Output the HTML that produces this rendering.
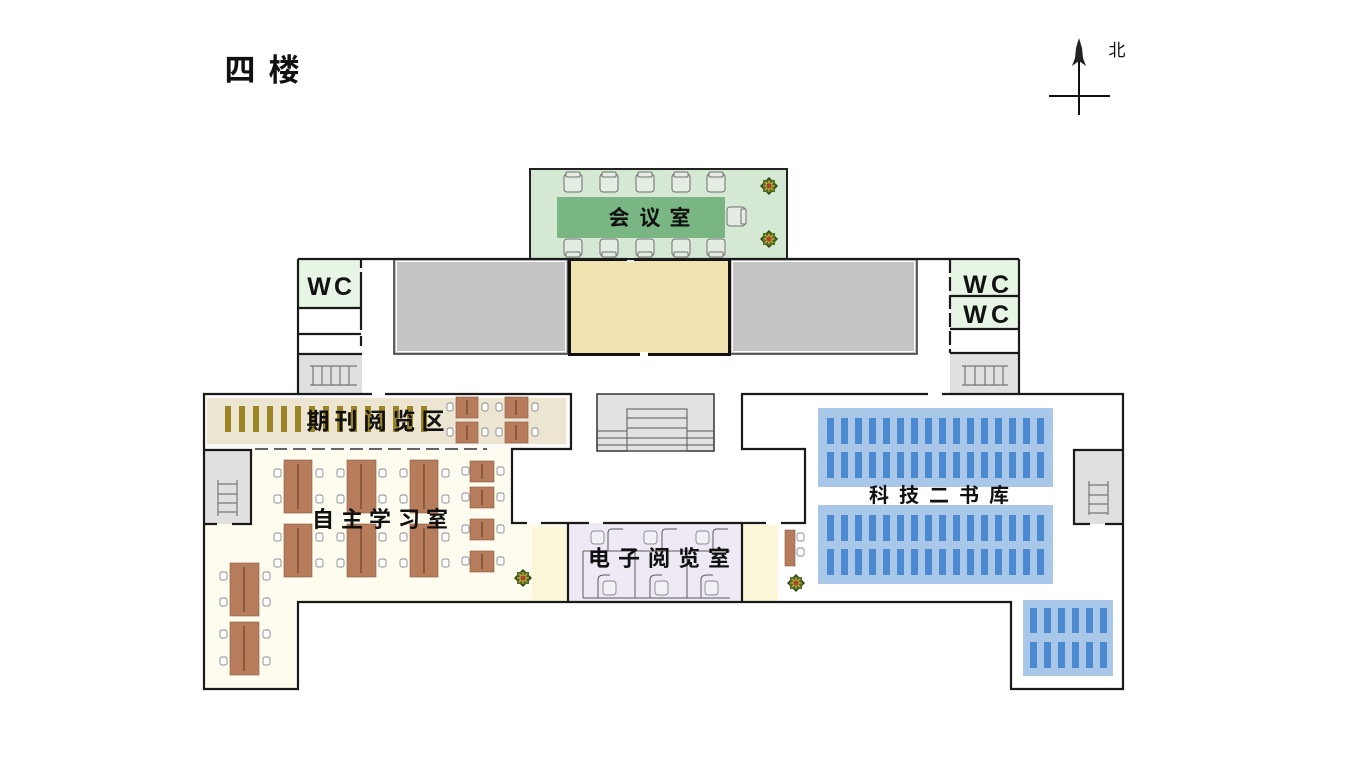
<!DOCTYPE html>
<html>
<head>
<meta charset="utf-8">
<style>
html,body{margin:0;padding:0;background:#fff;}
svg{display:block;}
</style>
</head>
<body>
<svg width="1349" height="777" viewBox="0 0 1349 777" xmlns="http://www.w3.org/2000/svg">
<defs>
  <g id="plant">
    <polygon points="0,-9 9,0 0,9 -9,0" fill="#2f4a17"/>
    <rect x="-6" y="-6" width="12" height="12" fill="#4e6d22"/>
    <polygon points="7,0 2.5,1 5,5 1,2.5 0,7 -1,2.5 -5,5 -2.5,1 -7,0 -2.5,-1 -5,-5 -1,-2.5 0,-7 1,-2.5 5,-5 2.5,-1" fill="#d2b040"/>
    <circle r="2.6" fill="#a8442a"/>
  </g>
</defs>
<rect width="1349" height="777" fill="#fff"/>

<!-- Title -->
<g font-family="'Liberation Sans','Noto Sans CJK SC',sans-serif" font-weight="700" font-size="31" fill="#111" text-anchor="middle">
  <text x="240" y="81">四</text>
  <text x="284" y="81">楼</text>
</g>

<!-- North arrow -->
<g stroke="#111" stroke-width="2">
  <line x1="1079" y1="42" x2="1079" y2="115"/>
  <line x1="1049" y1="96" x2="1110" y2="96"/>
</g>
<polygon points="1079,38 1082,48 1083,58 1086,66 1079,61 1072,66 1075,58 1076,48" fill="#222"/>
<text x="1117" y="56" font-family="'Liberation Sans','Noto Sans CJK SC',sans-serif" font-size="17" text-anchor="middle" fill="#111">北</text>

<!-- Meeting room -->
<rect x="530" y="169" width="257" height="90" fill="#d5e8d3" stroke="#222" stroke-width="2"/>
<rect x="557" y="197" width="168" height="41" fill="#79b684"/>
<g fill="#e4ede2" stroke="#6e6e6e" stroke-width="1">
  <rect x="564" y="174" width="18" height="18" rx="3"/><rect x="566" y="172" width="14" height="5" rx="1"/>
  <rect x="600" y="174" width="18" height="18" rx="3"/><rect x="602" y="172" width="14" height="5" rx="1"/>
  <rect x="636" y="174" width="18" height="18" rx="3"/><rect x="638" y="172" width="14" height="5" rx="1"/>
  <rect x="672" y="174" width="18" height="18" rx="3"/><rect x="674" y="172" width="14" height="5" rx="1"/>
  <rect x="707" y="174" width="18" height="18" rx="3"/><rect x="709" y="172" width="14" height="5" rx="1"/>
  <rect x="564" y="239" width="18" height="17" rx="3"/><rect x="566" y="252" width="14" height="5" rx="1"/>
  <rect x="600" y="239" width="18" height="17" rx="3"/><rect x="602" y="252" width="14" height="5" rx="1"/>
  <rect x="636" y="239" width="18" height="17" rx="3"/><rect x="638" y="252" width="14" height="5" rx="1"/>
  <rect x="672" y="239" width="18" height="17" rx="3"/><rect x="674" y="252" width="14" height="5" rx="1"/>
  <rect x="707" y="239" width="18" height="17" rx="3"/><rect x="709" y="252" width="14" height="5" rx="1"/>
  <rect x="727" y="207" width="18" height="19" rx="3"/><rect x="741" y="209" width="5" height="15" rx="1"/>
</g>
<use href="#plant" x="769" y="186"/>
<use href="#plant" x="769" y="239"/>

<!-- Band: grays and yellow -->
<rect x="394" y="259" width="174" height="95" fill="#c4c4c4" stroke="#333" stroke-width="1.5"/>
<rect x="396.5" y="261.5" width="169" height="90" fill="none" stroke="#fff" stroke-width="1"/>
<rect x="730" y="259" width="187" height="95" fill="#c4c4c4" stroke="#333" stroke-width="1.5"/>
<rect x="732.5" y="261.5" width="182" height="90" fill="none" stroke="#fff" stroke-width="1"/>
<rect x="569.5" y="259.5" width="160" height="95" fill="#f0e3b0" stroke="#111" stroke-width="3"/>
<rect x="627" y="257" width="7" height="5" fill="#fff"/>
<rect x="640" y="352" width="8" height="5" fill="#fff"/>

<!-- WC columns fills -->
<rect x="298" y="259" width="63" height="49" fill="#e6f5e4"/>
<rect x="298" y="354" width="64" height="40" fill="#e0e0e0"/>
<rect x="950" y="259" width="69" height="70" fill="#e6f5e4"/>
<rect x="950" y="353" width="69" height="41" fill="#e0e0e0"/>

<!-- Main lower fills -->
<rect x="205" y="395" width="366" height="54" fill="#fbfaf6"/>
<rect x="207" y="398" width="359" height="46" fill="#ebe5d1"/>
<polygon points="205,449 512,449 512,523 568,523 568,602 298,602 298,688 205,688" fill="#fdfcee"/>
<rect x="532" y="527" width="36" height="74" fill="#fbf7d8"/>
<rect x="568" y="523" width="174" height="79" fill="#efe9f5"/>
<rect x="742" y="525" width="36" height="76" fill="#fbf7d8"/>

<!-- Gold bars -->
<g fill="#9a8424">
  <rect x="225" y="406" width="6" height="26"/><rect x="239" y="406" width="6" height="26"/><rect x="253" y="406" width="6" height="26"/>
  <rect x="267" y="406" width="6" height="26"/><rect x="281" y="406" width="6" height="26"/><rect x="295" y="406" width="6" height="26"/>
  <rect x="309" y="406" width="6" height="26"/><rect x="323" y="406" width="6" height="26"/><rect x="337" y="406" width="6" height="26"/>
  <rect x="351" y="406" width="6" height="26"/><rect x="365" y="406" width="6" height="26"/><rect x="379" y="406" width="6" height="26"/>
  <rect x="393" y="406" width="6" height="26"/><rect x="407" y="406" width="6" height="26"/><rect x="421" y="406" width="6" height="26"/>
</g>

<!-- Tables -->
<g fill="#b67c5c" stroke="#8a5a40" stroke-width="0.6">
  <rect x="456" y="397" width="22" height="21"/><rect x="456" y="422" width="22" height="21"/>
  <rect x="505" y="397" width="23" height="21"/><rect x="505" y="422" width="23" height="21"/>
  <rect x="284" y="460" width="28" height="53"/><rect x="284" y="524" width="28" height="53"/>
  <rect x="347" y="460" width="29" height="53"/><rect x="347" y="524" width="29" height="53"/>
  <rect x="410" y="460" width="28" height="53"/><rect x="410" y="524" width="28" height="53"/>
  <rect x="470" y="461" width="24" height="21"/><rect x="470" y="487" width="24" height="21"/>
  <rect x="470" y="519" width="24" height="21"/><rect x="470" y="551" width="24" height="21"/>
  <rect x="230" y="563" width="29" height="53"/><rect x="230" y="622" width="29" height="53"/>
  <rect x="785" y="530" width="10" height="36"/>
</g>
<g stroke="#4e3020" stroke-width="0.9">
  <line x1="467" y1="400" x2="467" y2="415"/><line x1="467" y1="425" x2="467" y2="440"/>
  <line x1="516" y1="400" x2="516" y2="415"/><line x1="516" y1="425" x2="516" y2="440"/>
  <line x1="298" y1="464" x2="298" y2="509"/><line x1="298" y1="528" x2="298" y2="573"/>
  <line x1="361" y1="464" x2="361" y2="509"/><line x1="361" y1="528" x2="361" y2="573"/>
  <line x1="424" y1="464" x2="424" y2="509"/><line x1="424" y1="528" x2="424" y2="573"/>
  <line x1="482" y1="464" x2="482" y2="479"/><line x1="482" y1="490" x2="482" y2="505"/>
  <line x1="482" y1="522" x2="482" y2="537"/><line x1="482" y1="554" x2="482" y2="569"/>
  <line x1="244" y1="567" x2="244" y2="612"/><line x1="244" y1="626" x2="244" y2="671"/>
</g>

<!-- Small chairs -->
<g fill="#fff" stroke="#8a8a8a" stroke-width="0.9">
  <rect x="447" y="403" width="6" height="8" rx="2"/><rect x="482" y="403" width="6" height="8" rx="2"/>
  <rect x="447" y="428" width="6" height="8" rx="2"/><rect x="482" y="428" width="6" height="8" rx="2"/>
  <rect x="496" y="403" width="6" height="8" rx="2"/><rect x="532" y="403" width="6" height="8" rx="2"/>
  <rect x="496" y="428" width="6" height="8" rx="2"/><rect x="532" y="428" width="6" height="8" rx="2"/>

  <rect x="274" y="469" width="7" height="8" rx="2"/><rect x="316" y="469" width="7" height="8" rx="2"/>
  <rect x="274" y="495" width="7" height="8" rx="2"/><rect x="316" y="495" width="7" height="8" rx="2"/>
  <rect x="274" y="533" width="7" height="8" rx="2"/><rect x="316" y="533" width="7" height="8" rx="2"/>
  <rect x="274" y="559" width="7" height="8" rx="2"/><rect x="316" y="559" width="7" height="8" rx="2"/>

  <rect x="337" y="469" width="7" height="8" rx="2"/><rect x="379" y="469" width="7" height="8" rx="2"/>
  <rect x="337" y="495" width="7" height="8" rx="2"/><rect x="379" y="495" width="7" height="8" rx="2"/>
  <rect x="337" y="533" width="7" height="8" rx="2"/><rect x="379" y="533" width="7" height="8" rx="2"/>
  <rect x="337" y="559" width="7" height="8" rx="2"/><rect x="379" y="559" width="7" height="8" rx="2"/>

  <rect x="400" y="469" width="7" height="8" rx="2"/><rect x="442" y="469" width="7" height="8" rx="2"/>
  <rect x="400" y="495" width="7" height="8" rx="2"/><rect x="442" y="495" width="7" height="8" rx="2"/>
  <rect x="400" y="533" width="7" height="8" rx="2"/><rect x="442" y="533" width="7" height="8" rx="2"/>
  <rect x="400" y="559" width="7" height="8" rx="2"/><rect x="442" y="559" width="7" height="8" rx="2"/>

  <rect x="462" y="467" width="7" height="8" rx="2"/><rect x="497" y="467" width="7" height="8" rx="2"/>
  <rect x="462" y="493" width="7" height="8" rx="2"/><rect x="497" y="493" width="7" height="8" rx="2"/>
  <rect x="462" y="525" width="7" height="8" rx="2"/><rect x="497" y="525" width="7" height="8" rx="2"/>
  <rect x="462" y="557" width="7" height="8" rx="2"/><rect x="497" y="557" width="7" height="8" rx="2"/>

  <rect x="220" y="572" width="7" height="8" rx="2"/><rect x="263" y="572" width="7" height="8" rx="2"/>
  <rect x="220" y="598" width="7" height="8" rx="2"/><rect x="263" y="598" width="7" height="8" rx="2"/>
  <rect x="220" y="630" width="7" height="8" rx="2"/><rect x="263" y="630" width="7" height="8" rx="2"/>
  <rect x="220" y="657" width="7" height="8" rx="2"/><rect x="263" y="657" width="7" height="8" rx="2"/>

  <rect x="797" y="533" width="7" height="8" rx="2"/><rect x="797" y="548" width="7" height="8" rx="2"/>
</g>

<use href="#plant" x="523" y="578"/>
<use href="#plant" x="796" y="583"/>

<!-- E-reading cubicles -->
<g fill="none" stroke="#5a5a5a" stroke-width="1">
  <line x1="583" y1="551" x2="730" y2="551"/>
  <path d="M608,551 V533 Q608,529 612,529 H623"/>
  <path d="M662,551 V533 Q662,529 666,529 H677"/>
  <path d="M713,551 V533 Q713,529 717,529 H728"/>
  <path d="M583,551 V598"/>
  <path d="M635,551 V598"/>
  <path d="M687,551 V598"/>
  <path d="M598,598 V580 Q598,575 604,575 H610"/>
  <path d="M650,598 V580 Q650,575 656,575 H662"/>
  <path d="M701,598 V580 Q701,575 707,575 H713"/>
  <line x1="583" y1="598" x2="730" y2="598"/>
</g>
<g fill="#f4f0f8" stroke="#8a8a8a" stroke-width="0.9">
  <rect x="591" y="531" width="13" height="13" rx="3"/>
  <rect x="644" y="531" width="13" height="13" rx="3"/>
  <rect x="696" y="531" width="13" height="13" rx="3"/>
  <rect x="603" y="581" width="13" height="14" rx="3"/>
  <rect x="655" y="581" width="13" height="14" rx="3"/>
  <rect x="705" y="581" width="13" height="14" rx="3"/>
</g>

<!-- Book stacks -->
<rect x="818" y="408" width="235" height="79" fill="#a9c7e9"/>
<rect x="818" y="505" width="235" height="79" fill="#a9c7e9"/>
<rect x="1023" y="600" width="90" height="76" fill="#a9c7e9"/>
<g fill="#4b89d0">
  <rect x="827" y="418" width="7" height="26"/><rect x="841" y="418" width="7" height="26"/><rect x="855" y="418" width="7" height="26"/><rect x="869" y="418" width="7" height="26"/>
  <rect x="883" y="418" width="7" height="26"/><rect x="897" y="418" width="7" height="26"/><rect x="911" y="418" width="7" height="26"/><rect x="925" y="418" width="7" height="26"/>
  <rect x="939" y="418" width="7" height="26"/><rect x="953" y="418" width="7" height="26"/><rect x="967" y="418" width="7" height="26"/><rect x="981" y="418" width="7" height="26"/>
  <rect x="995" y="418" width="7" height="26"/><rect x="1009" y="418" width="7" height="26"/><rect x="1023" y="418" width="7" height="26"/><rect x="1037" y="418" width="7" height="26"/>

  <rect x="827" y="452" width="7" height="26"/><rect x="841" y="452" width="7" height="26"/><rect x="855" y="452" width="7" height="26"/><rect x="869" y="452" width="7" height="26"/>
  <rect x="883" y="452" width="7" height="26"/><rect x="897" y="452" width="7" height="26"/><rect x="911" y="452" width="7" height="26"/><rect x="925" y="452" width="7" height="26"/>
  <rect x="939" y="452" width="7" height="26"/><rect x="953" y="452" width="7" height="26"/><rect x="967" y="452" width="7" height="26"/><rect x="981" y="452" width="7" height="26"/>
  <rect x="995" y="452" width="7" height="26"/><rect x="1009" y="452" width="7" height="26"/><rect x="1023" y="452" width="7" height="26"/><rect x="1037" y="452" width="7" height="26"/>

  <rect x="827" y="515" width="7" height="26"/><rect x="841" y="515" width="7" height="26"/><rect x="855" y="515" width="7" height="26"/><rect x="869" y="515" width="7" height="26"/>
  <rect x="883" y="515" width="7" height="26"/><rect x="897" y="515" width="7" height="26"/><rect x="911" y="515" width="7" height="26"/><rect x="925" y="515" width="7" height="26"/>
  <rect x="939" y="515" width="7" height="26"/><rect x="953" y="515" width="7" height="26"/><rect x="967" y="515" width="7" height="26"/><rect x="981" y="515" width="7" height="26"/>
  <rect x="995" y="515" width="7" height="26"/><rect x="1009" y="515" width="7" height="26"/><rect x="1023" y="515" width="7" height="26"/><rect x="1037" y="515" width="7" height="26"/>

  <rect x="827" y="549" width="7" height="26"/><rect x="841" y="549" width="7" height="26"/><rect x="855" y="549" width="7" height="26"/><rect x="869" y="549" width="7" height="26"/>
  <rect x="883" y="549" width="7" height="26"/><rect x="897" y="549" width="7" height="26"/><rect x="911" y="549" width="7" height="26"/><rect x="925" y="549" width="7" height="26"/>
  <rect x="939" y="549" width="7" height="26"/><rect x="953" y="549" width="7" height="26"/><rect x="967" y="549" width="7" height="26"/><rect x="981" y="549" width="7" height="26"/>
  <rect x="995" y="549" width="7" height="26"/><rect x="1009" y="549" width="7" height="26"/><rect x="1023" y="549" width="7" height="26"/><rect x="1037" y="549" width="7" height="26"/>

  <rect x="1030" y="608" width="7" height="25"/><rect x="1044" y="608" width="7" height="25"/><rect x="1058" y="608" width="7" height="25"/>
  <rect x="1072" y="608" width="7" height="25"/><rect x="1086" y="608" width="7" height="25"/><rect x="1100" y="608" width="7" height="25"/>
  <rect x="1030" y="642" width="7" height="26"/><rect x="1044" y="642" width="7" height="26"/><rect x="1058" y="642" width="7" height="26"/>
  <rect x="1072" y="642" width="7" height="26"/><rect x="1086" y="642" width="7" height="26"/><rect x="1100" y="642" width="7" height="26"/>
</g>

<!-- Stairs -->
<rect x="597" y="394" width="117" height="57" fill="#e2e2e2" stroke="#333" stroke-width="1.5"/>
<g fill="none" stroke="#555" stroke-width="1">
  <rect x="627" y="409" width="60" height="42"/>
  <line x1="627" y1="418" x2="687" y2="418"/>
  <line x1="627" y1="428" x2="687" y2="428"/>
  <line x1="627" y1="438" x2="687" y2="438"/>
  <line x1="627" y1="445" x2="687" y2="445"/>
  <line x1="597" y1="431" x2="627" y2="431"/><line x1="687" y1="431" x2="714" y2="431"/>
  <line x1="597" y1="438" x2="627" y2="438"/><line x1="687" y1="438" x2="714" y2="438"/>
  <line x1="597" y1="445" x2="627" y2="445"/><line x1="687" y1="445" x2="714" y2="445"/>
</g>
<rect x="205" y="450" width="46" height="74" fill="#e0e0e0"/>
<rect x="1074" y="450" width="49" height="74" fill="#e0e0e0"/>
<g fill="none" stroke="#777" stroke-width="1.2">
  <line x1="310" y1="366" x2="357" y2="366"/><line x1="310" y1="385" x2="357" y2="385"/>
  <line x1="313" y1="366" x2="313" y2="385"/><line x1="322" y1="366" x2="322" y2="385"/>
  <line x1="331" y1="366" x2="331" y2="385"/><line x1="340" y1="366" x2="340" y2="385"/><line x1="349" y1="366" x2="349" y2="385"/>
  <line x1="962" y1="366" x2="1008" y2="366"/><line x1="962" y1="385" x2="1008" y2="385"/>
  <line x1="965" y1="366" x2="965" y2="385"/><line x1="975" y1="366" x2="975" y2="385"/>
  <line x1="985" y1="366" x2="985" y2="385"/><line x1="994" y1="366" x2="994" y2="385"/><line x1="1003" y1="366" x2="1003" y2="385"/>
  <line x1="218" y1="480" x2="218" y2="516"/><line x1="237" y1="480" x2="237" y2="516"/>
  <line x1="218" y1="484" x2="237" y2="484"/><line x1="218" y1="494" x2="237" y2="494"/>
  <line x1="218" y1="503" x2="237" y2="503"/><line x1="218" y1="512" x2="237" y2="512"/>
  <line x1="1089" y1="481" x2="1089" y2="515"/><line x1="1108" y1="481" x2="1108" y2="515"/>
  <line x1="1089" y1="485" x2="1108" y2="485"/><line x1="1089" y1="495" x2="1108" y2="495"/>
  <line x1="1089" y1="504" x2="1108" y2="504"/><line x1="1089" y1="513" x2="1108" y2="513"/>
</g>

<!-- Walls -->
<g fill="none" stroke="#1a1a1a" stroke-width="2.2">
  <path d="M298,259 H1019"/>
  <path d="M298,259 V394"/>
  <path d="M361,259 V268 M361,272 V330 M361,336 V346"/>
  <path d="M298,308 H361 M298,334 H361 M298,354 H362"/>
  <path d="M1019,259 V394"/>
  <path d="M950,259 V353" stroke-dasharray="14 4"/>
  <path d="M950,296 H1019 M950,329 H1019 M950,353 H1019"/>
  <path d="M372,394 H204 V689 H298 V602 H1011 V689 H1123 V394 H942"/>
  <path d="M928,394 H742 V449 H805 V523 H781"/>
  <path d="M766,523 H603"/>
  <path d="M589,523 H541"/>
  <path d="M527,523 H512 V449 H571 V394 H385"/>
  <path d="M568,523 V602 M742,523 V602"/>
  <path d="M205,450 H251 V524 H232 M217,524 H205"/>
  <path d="M1123,450 H1074 V524 H1090 M1105,524 H1123"/>
</g>
<path d="M255,449 H487" stroke="#333" stroke-width="1.5" stroke-dasharray="13 6" fill="none"/>

<!-- Labels -->
<g font-family="'Liberation Sans','Noto Sans CJK SC',sans-serif" font-weight="700" fill="#111" text-anchor="middle">
  <g font-size="21">
    <text x="619" y="225">会</text><text x="650" y="225">议</text><text x="680" y="225">室</text>
  </g>
  <g font-size="25">
    <text x="319" y="295">W</text><text x="343" y="295">C</text>
    <text x="975" y="293">W</text><text x="1000" y="293">C</text>
    <text x="975" y="323">W</text><text x="1000" y="323">C</text>
  </g>
  <g font-size="23">
    <text x="318" y="429">期</text><text x="346" y="429">刊</text><text x="375" y="429">阅</text><text x="404" y="429">览</text><text x="433" y="429">区</text>
  </g>
  <g font-size="22">
    <text x="323" y="527">自</text><text x="352" y="527">主</text><text x="380" y="527">学</text><text x="409" y="527">习</text><text x="437" y="527">室</text>
  </g>
  <g font-size="22">
    <text x="599" y="566">电</text><text x="629" y="566">子</text><text x="659" y="566">阅</text><text x="689" y="566">览</text><text x="719" y="566">室</text>
  </g>
  <g font-size="20">
    <text x="879" y="502">科</text><text x="909" y="502">技</text><text x="939" y="502">二</text><text x="969" y="502">书</text><text x="999" y="502">库</text>
  </g>
</g>
</svg>
</body>
</html>
